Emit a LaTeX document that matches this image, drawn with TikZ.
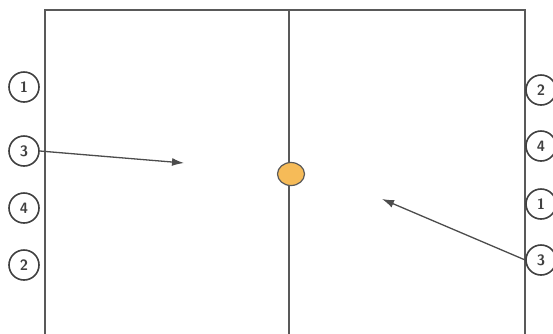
\documentclass[tikz,border=0pt]{standalone}
\usetikzlibrary{arrows.meta,shapes.geometric}
\definecolor{ballc}{RGB}{246,187,88}
\begin{document}
\begin{tikzpicture}[x=1pt,y=-1pt,
  court/.style={draw=black!65,line width=1.7pt},
  player/.style={circle,draw=black!75,line width=1.6pt,minimum size=30pt,inner sep=0pt,font=\sffamily\bfseries\fontsize{15}{15}\selectfont,text=black!75},
  move/.style={draw=black!70,line width=1.3pt,-{Latex[length=12pt,width=8pt]}}]
\useasboundingbox (0,0) rectangle (553,333);
\fill[white] (0,0) rectangle (553,333);
\draw[court] (45,340) -- (45,10) -- (525,10) -- (525,340);
\draw[court] (289,10) -- (289,340);
\node[ellipse,draw=black!65,line width=1.2pt,fill=ballc,minimum width=27pt,minimum height=23pt,inner sep=0pt] (ball) at (291,174) {};
\node[player] (l1) at (24,87) {1};
\node[player] (l3) at (24,151) {3};
\node[player] (l4) at (24,208) {4};
\node[player] (l2) at (24,265) {2};
\node[player] (r2) at (541,90) {2};
\node[player] (r4) at (541,146) {4};
\node[player] (r1) at (541,204) {1};
\node[player] (r3) at (541,260) {3};
\coordinate (la) at (184,163);
\coordinate (ra) at (382,199);
\draw[move] (l3.east) -- (la);
\draw[move] (r3.west) -- (ra);
\end{tikzpicture}
\end{document}
